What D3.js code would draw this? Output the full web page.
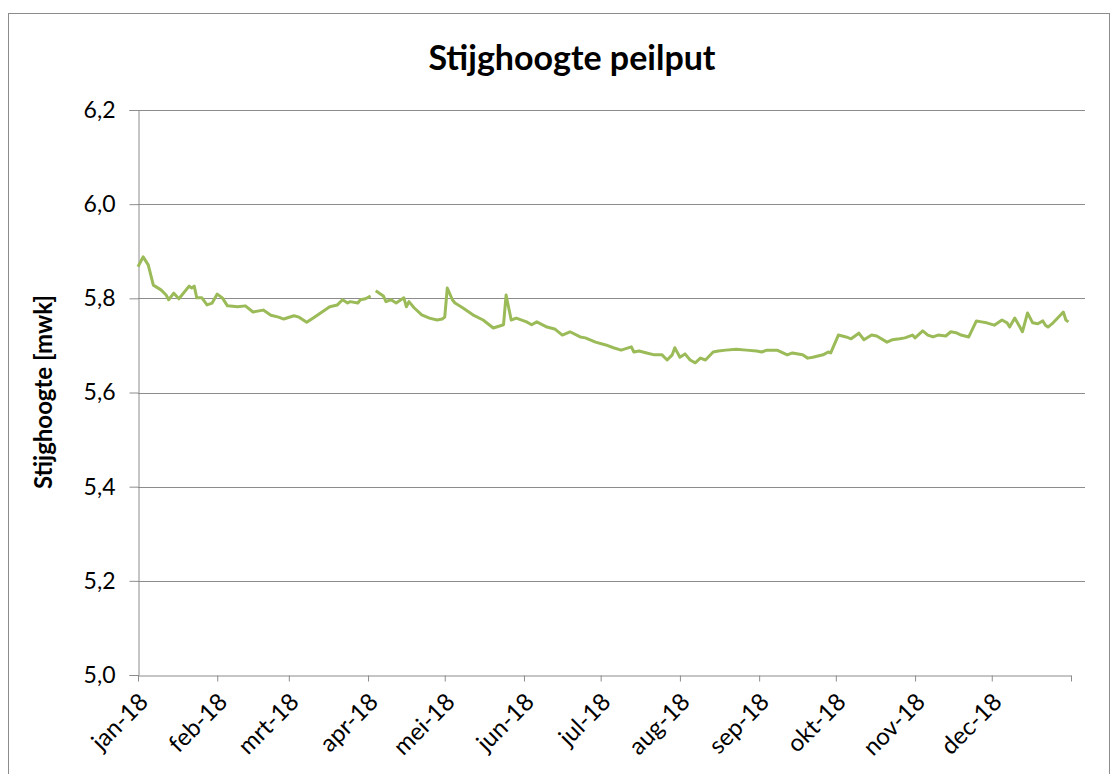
<!DOCTYPE html>
<html>
<head>
<meta charset="utf-8">
<script src="https://cdnjs.cloudflare.com/ajax/libs/d3/7.8.5/d3.min.js"></script>
<style>
  body { margin: 0; background: #fff; }
  text { font-family: Lato, "Open Sans", sans-serif; fill: #000; }
</style>
</head>
<body>
<script>
// Data: day number since 1 jan 2018 and stijghoogte in mwk (null = gap in the series)
var dayNr = [0, 2, 4, 6, 9, 11, 12, 14, 16, 20, 21, 22, 23, 25, 27, 29, 31, 33, 35, 39,
  42, 45, 49, 52, 55, 57, 61, 63, 66, 69, 72, 75, 78, 80, 82, 83, 86, 87, 89, 91,
  92,
  93, 96, 97, 99, 101, 104, 105, 106, 108, 111, 114, 117, 119, 120, 121, 123, 124, 127, 131,
  135, 139, 143, 144, 146, 148, 152, 154, 156, 160, 163, 166, 169, 173, 175, 179, 183, 186, 189, 193,
  194, 196, 199, 202, 205, 207, 209, 210, 212, 214, 216, 218, 220, 222, 225, 227, 230, 234, 238, 242,
  244, 246, 247, 250, 254, 256, 260, 262, 264, 268, 270, 271, 274, 277, 279, 282, 284, 287, 289, 293,
  295, 298, 300, 303, 304, 307, 309, 311, 313, 316, 318, 320, 322, 325, 328, 330, 332, 335, 338, 340,
  341, 343, 345, 346, 348, 350, 352, 354, 355, 356, 358, 361, 362, 363, 364];

var stijghoogte = [5.867, 5.888, 5.871, 5.828, 5.818, 5.807, 5.797, 5.811, 5.799, 5.826, 5.822, 5.826, 5.801, 5.801, 5.786, 5.790, 5.809, 5.801, 5.784, 5.782,
  5.784, 5.771, 5.775, 5.764, 5.760, 5.756, 5.763, 5.760, 5.749, 5.760, 5.771, 5.782, 5.786, 5.797, 5.790, 5.793, 5.790, 5.797, 5.799, 5.805,
  null,
  5.816, 5.805, 5.793, 5.797, 5.790, 5.801, 5.782, 5.793, 5.780, 5.765, 5.758, 5.754, 5.756, 5.760, 5.822, 5.797, 5.790, 5.780, 5.765,
  5.754, 5.737, 5.744, 5.807, 5.754, 5.758, 5.750, 5.744, 5.750, 5.739, 5.735, 5.722, 5.729, 5.718, 5.716, 5.707, 5.701, 5.695, 5.690, 5.697,
  5.686, 5.688, 5.684, 5.680, 5.680, 5.669, 5.680, 5.695, 5.675, 5.682, 5.669, 5.663, 5.673, 5.669, 5.686, 5.688, 5.690, 5.692, 5.690, 5.688,
  5.686, 5.690, 5.690, 5.690, 5.680, 5.684, 5.680, 5.673, 5.675, 5.680, 5.686, 5.684, 5.722, 5.718, 5.714, 5.726, 5.712, 5.722, 5.720, 5.707,
  5.712, 5.714, 5.716, 5.722, 5.716, 5.731, 5.722, 5.718, 5.722, 5.720, 5.729, 5.727, 5.722, 5.718, 5.752, 5.750, 5.748, 5.743, 5.754, 5.748,
  5.739, 5.758, 5.739, 5.729, 5.769, 5.748, 5.746, 5.752, 5.743, 5.739, 5.748, 5.765, 5.771, 5.754, 5.750];

var yTicks = [5.0, 5.2, 5.4, 5.6, 5.8, 6.0, 6.2];
var monthLabels = ["jan-18", "feb-18", "mrt-18", "apr-18", "mei-18", "jun-18",
  "jul-18", "aug-18", "sep-18", "okt-18", "nov-18", "dec-18"];

var chartTitle = "Stijghoogte peilput",
    yTitle = "Stijghoogte [mwk]";

// Dimensions
var width = 1117, height = 774;
var plot = {left: 138, top: 110, right: 1085, bottom: 675};

var start = new Date(2018, 0, 1);
var data = dayNr.map(function(d, i) {
  return {date: d3.timeDay.offset(start, d), value: stijghoogte[i]};
});

var svg = d3.select("body").append("svg")
    .attr("width", width)
    .attr("height", height);

// outer chart border
svg.append("rect")
    .attr("x", 8.5).attr("y", 13.5)
    .attr("width", 1101).attr("height", 800)
    .attr("fill", "none")
    .attr("stroke", "#8c8c8c");

// scales
var x = d3.scaleTime()
    .domain([start, new Date(2019, 0, 1)])
    .range([plot.left, 1071]);

var y = d3.scaleLinear()
    .domain([5.0, 6.2])
    .range([plot.bottom, plot.top]);

// horizontal gridlines
svg.append("g")
    .selectAll("line")
    .data(yTicks.slice(1))
    .enter().append("line")
    .attr("x1", plot.left)
    .attr("x2", plot.right)
    .attr("y1", function(d) { return Math.round(y(d)) + 0.5; })
    .attr("y2", function(d) { return Math.round(y(d)) + 0.5; })
    .attr("stroke", "#8c8c8c");

// y axis
var yAxis = svg.append("g")
    .attr("transform", "translate(" + (plot.left + 0.5) + ",0)")
    .call(d3.axisLeft(y)
      .tickValues(yTicks)
      .tickSize(9)
      .tickPadding(14)
      .tickFormat(function(d) { return d3.format(".1f")(d).replace(".", ","); }));

yAxis.select(".domain").attr("stroke", "#8c8c8c");
yAxis.selectAll(".tick line").attr("stroke", "#8c8c8c");
yAxis.selectAll(".tick text")
    .style("font-size", "23px")
    .attr("fill", "#000");

// x axis (month ticks)
var monthTicks = d3.timeMonth.range(start, new Date(2019, 0, 2));
var xAxis = svg.append("g")
    .attr("transform", "translate(0," + (plot.bottom + 0.5) + ")")
    .call(d3.axisBottom(x)
      .tickValues(monthTicks)
      .tickSizeInner(6)
      .tickSizeOuter(0)
      .tickFormat(function(d, i) { return monthLabels[i] || ""; }));

xAxis.select(".domain").attr("stroke", "#8c8c8c");
xAxis.selectAll(".tick line").attr("stroke", "#8c8c8c");
xAxis.selectAll(".tick text")
    .style("font-size", "24px")
    .attr("fill", "#000")
    .attr("text-anchor", "end")
    .attr("dy", null)
    .attr("y", 0)
    .attr("transform", "translate(11,28) rotate(-45)");

// the series line
var line = d3.line()
    .defined(function(d) { return d.value !== null; })
    .x(function(d) { return x(d.date); })
    .y(function(d) { return y(d.value); });

svg.append("path")
    .datum(data)
    .attr("d", line)
    .attr("fill", "none")
    .attr("stroke", "#9bbb59")
    .attr("stroke-width", 3)
    .attr("stroke-linejoin", "round");

// titles
svg.append("text")
    .attr("x", 572)
    .attr("y", 70)
    .attr("text-anchor", "middle")
    .style("font-size", "34px")
    .style("font-weight", "bold")
    .text(chartTitle);

svg.append("text")
    .attr("transform", "translate(52,392) rotate(-90)")
    .attr("text-anchor", "middle")
    .style("font-size", "24px")
    .style("font-weight", "bold")
    .text(yTitle);
</script>
</body>
</html>
